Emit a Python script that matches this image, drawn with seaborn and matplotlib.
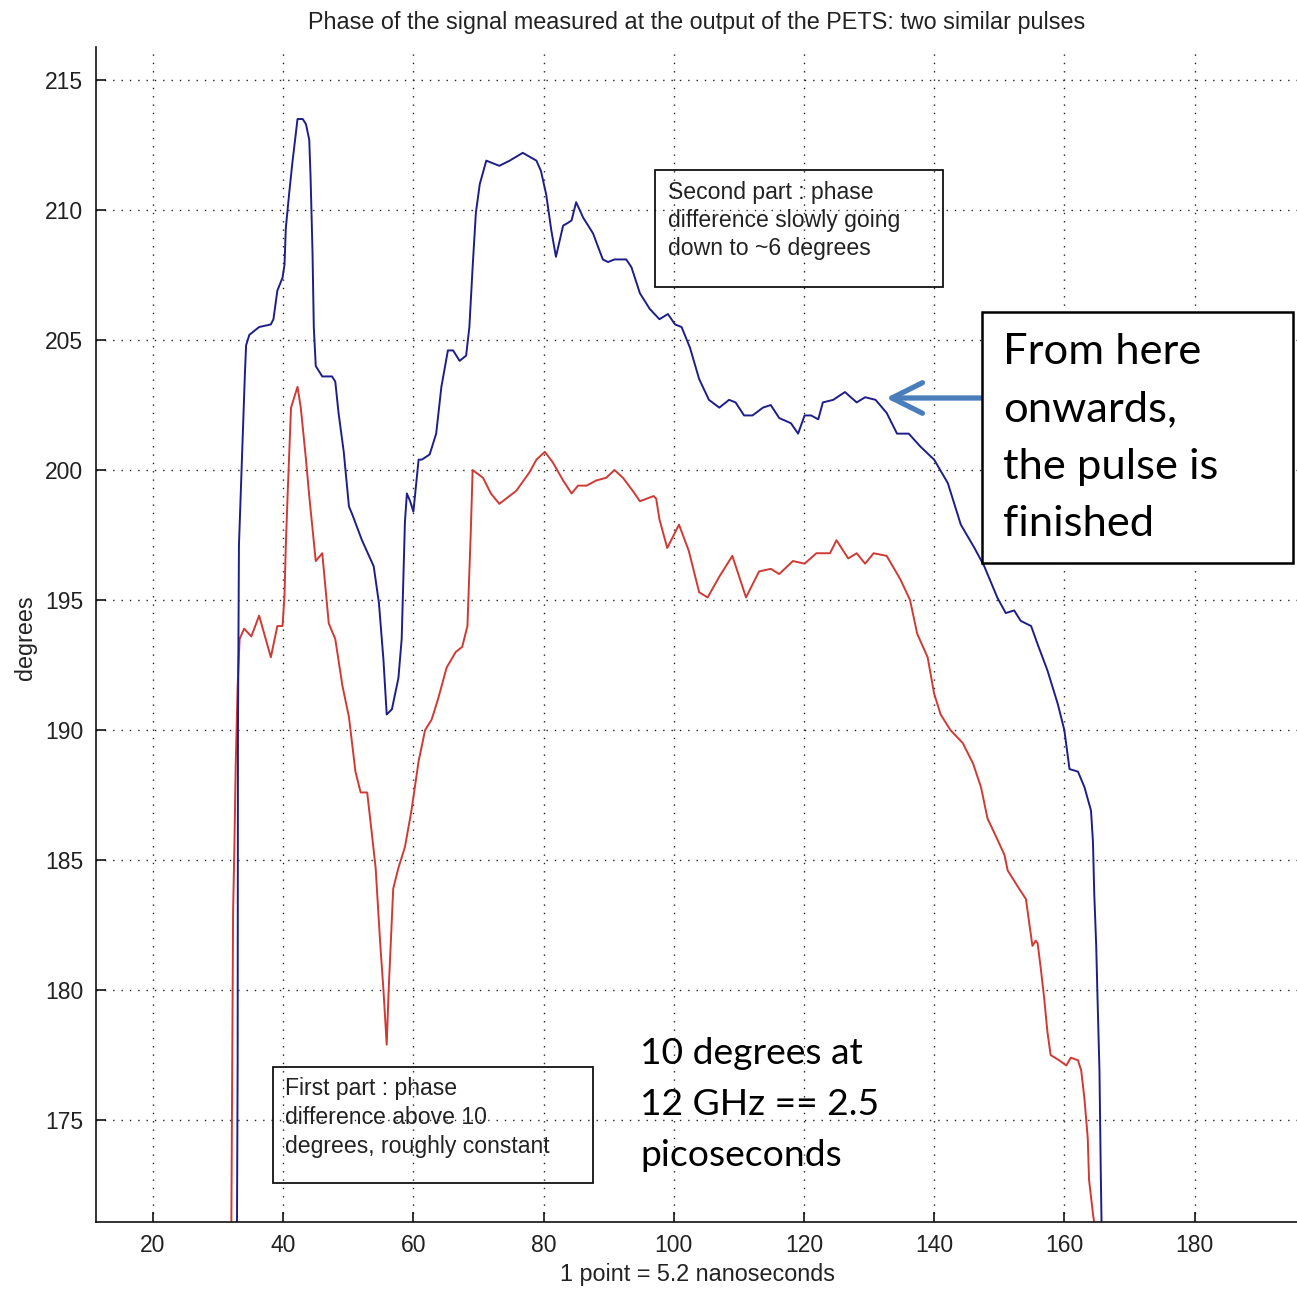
import numpy as np
import pandas as pd
import matplotlib
matplotlib.use("Agg")
import matplotlib.pyplot as plt
import seaborn as sns
from matplotlib.patches import Rectangle

# ---------------- data ----------------
blue_x = [32.8, 33.0, 33.05, 33.2, 33.5, 33.8, 34.1, 34.3, 34.8, 36.3, 38.1, 38.5, 39.1, 39.9,
          40.2, 40.4, 40.9, 41.4, 42.2, 43.0, 43.5, 44.0, 44.2, 44.5, 44.7, 45.0, 46.0, 47.5,
          48.0, 48.5, 49.3, 50.1, 50.6, 52.1, 53.9, 54.7, 55.4, 55.9, 56.7, 57.7, 58.2, 58.7,
          59.0, 59.5, 60.0, 60.8, 61.3, 62.5, 63.5, 64.3, 65.3, 66.1, 67.1, 68.1, 68.6, 69.1,
          69.6, 70.2, 71.2, 73.2, 74.8, 76.8, 78.9, 79.6, 80.4, 81.2, 81.9, 83.0, 83.7, 84.3,
          85.0, 86.1, 87.6, 89.1, 89.9, 90.9, 92.7, 93.5, 94.8, 96.3, 97.8, 99.1, 100.2, 101.2,
          102.5, 103.9, 105.4, 107.0, 108.5, 109.5, 110.8, 112.1, 113.7, 114.9, 116.2, 118.0,
          119.1, 120.1, 121.1, 122.2, 122.9, 124.5, 126.3, 128.1, 129.4, 131.0, 132.7, 134.3,
          136.1, 137.9, 140.0, 142.1, 144.1, 146.2, 147.7, 149.7, 151.0, 152.3, 153.3, 154.9,
          155.9, 157.4, 159.0, 160.0, 160.8, 162.1, 163.1, 164.1, 164.4, 164.6, 164.9, 165.1,
          165.4, 165.6, 165.9]
blue_y = [165.0, 177.2, 190.0, 197.1, 199.3, 201.6, 203.6, 204.8, 205.2, 205.5, 205.6, 205.8,
          206.9, 207.4, 207.9, 209.3, 210.6, 211.8, 213.5, 213.5, 213.3, 212.7, 211.3, 208.4,
          205.5, 204.0, 203.6, 203.6, 203.4, 202.2, 200.7, 198.6, 198.3, 197.3, 196.3, 194.9,
          192.7, 190.6, 190.8, 192.0, 193.5, 198.0, 199.1, 198.8, 198.4, 200.4, 200.4, 200.6,
          201.4, 203.2, 204.6, 204.6, 204.2, 204.4, 205.5, 207.8, 209.9, 211.0, 211.9, 211.7,
          211.9, 212.2, 211.9, 211.5, 210.6, 209.2, 208.2, 209.4, 209.5, 209.6, 210.3, 209.7,
          209.1, 208.1, 208.0, 208.1, 208.1, 207.8, 206.8, 206.2, 205.8, 206.0, 205.6, 205.5,
          204.7, 203.5, 202.7, 202.4, 202.7, 202.6, 202.1, 202.1, 202.4, 202.5, 202.0, 201.8,
          201.4, 202.1, 202.1, 201.95, 202.6, 202.7, 203.0, 202.6, 202.8, 202.7, 202.2, 201.4,
          201.4, 200.9, 200.4, 199.5, 197.9, 197.0, 196.3, 195.1, 194.5, 194.6, 194.2, 194.0,
          193.3, 192.3, 191.0, 190.0, 188.5, 188.4, 187.8, 186.9, 185.7, 183.7, 181.7, 179.7,
          176.9, 173.0, 168.0]

red_x = [31.9, 32.3, 32.5, 32.7, 33.0, 33.3, 34.0, 35.1, 36.3, 38.1, 39.1, 39.9, 40.2, 40.4,
         40.7, 41.2, 42.2, 42.7, 43.5, 44.0, 45.0, 46.0, 47.0, 48.0, 49.1, 50.1, 51.1, 51.9,
         52.9, 53.4, 54.2, 54.9, 55.4, 55.9, 56.2, 56.9, 57.7, 58.7, 59.7, 60.8, 61.8, 62.8,
         63.8, 65.1, 66.5, 67.5, 68.3, 68.8, 69.1, 70.7, 71.9, 73.2, 75.8, 77.8, 78.9, 80.2,
         81.4, 83.0, 84.3, 85.3, 86.6, 88.1, 89.6, 90.9, 92.2, 93.7, 94.8, 96.9, 97.3, 97.8,
         99.0, 100.8, 102.3, 103.9, 105.2, 107.0, 109.0, 111.1, 113.1, 114.9, 116.2, 118.3,
         120.1, 121.9, 124.0, 125.0, 126.8, 128.1, 129.4, 130.7, 132.7, 134.8, 136.3, 137.4,
         139.0, 140.0, 141.0, 142.5, 144.4, 146.0, 147.2, 148.2, 149.7, 150.8, 151.3, 152.8,
         154.1, 154.6, 155.1, 155.6, 155.9, 156.4, 156.9, 157.4, 157.9, 159.2, 160.3, 161.0,
         162.1, 162.6, 163.1, 163.6, 163.8, 164.4, 164.9]
red_y = [165.0, 183.0, 185.5, 188.6, 191.7, 193.5, 193.9, 193.6, 194.4, 192.8, 194.0, 194.0,
         195.2, 197.1, 199.2, 202.4, 203.2, 202.4, 200.4, 199.0, 196.5, 196.8, 194.1, 193.5,
         191.7, 190.5, 188.4, 187.6, 187.6, 186.5, 184.7, 181.8, 180.0, 177.9, 180.0, 183.9,
         184.7, 185.5, 186.9, 188.8, 190.0, 190.4, 191.2, 192.4, 193.0, 193.2, 194.0, 197.5,
         200.0, 199.7, 199.1, 198.7, 199.2, 199.9, 200.4, 200.7, 200.3, 199.6, 199.1, 199.4,
         199.4, 199.6, 199.7, 200.0, 199.7, 199.2, 198.8, 199.0, 198.9, 198.1, 197.0, 197.9,
         196.9, 195.3, 195.1, 195.9, 196.7, 195.1, 196.1, 196.2, 196.0, 196.5, 196.4, 196.8,
         196.8, 197.3, 196.6, 196.8, 196.4, 196.8, 196.7, 195.8, 195.0, 193.7, 192.8, 191.4,
         190.6, 190.0, 189.5, 188.7, 187.8, 186.6, 185.8, 185.2, 184.6, 184.0, 183.5, 182.6,
         181.7, 181.9, 181.8, 180.8, 179.7, 178.4, 177.5, 177.3, 177.1, 177.4, 177.3, 176.9,
         175.8, 174.3, 172.7, 171.4, 170.5]

x_ticks = [20, 40, 60, 80, 100, 120, 140, 160, 180]
y_ticks = [175, 180, 185, 190, 195, 200, 205, 210, 215]

title_text = "Phase of the signal measured at the output of the PETS: two similar pulses"
x_label = "1 point = 5.2 nanoseconds"
y_label = "degrees"
note_second = ["Second part : phase", "difference slowly going", "down to ~6 degrees"]
note_first = ["First part : phase", "difference above 10", "degrees, roughly constant"]
note_finished = ["From here", "onwards,", "the pulse is", "finished"]
note_ghz = ["10 degrees at", "12 GHz == 2.5", "picoseconds"]

# ---------------- figure ----------------
sns.set_theme(style="white")
plt.rcParams['font.family'] = ['Liberation Sans', 'DejaVu Sans']

W, H = 1297, 1289
fig = plt.figure(figsize=(W / 100, H / 100), dpi=100)
fig.patch.set_facecolor("white")


def fx(px):
    return px / W


def fy(py):
    return 1 - py / H


ax = fig.add_axes([fx(96), fy(1222), fx(1298) - fx(96), fy(47) - fy(1222)])
ax.set_facecolor("white")

df = pd.concat([
    pd.DataFrame({"x": red_x, "y": red_y, "series": "pulse 2"}),
    pd.DataFrame({"x": blue_x, "y": blue_y, "series": "pulse 1"}),
], ignore_index=True)

sns.lineplot(data=df, x="x", y="y", hue="series", units="series", estimator=None,
             sort=False, palette={"pulse 1": "#1e1e8a", "pulse 2": "#cf3a35"},
             linewidth=1.4, legend=False, ax=ax)

ax.set_xlim(11.24, 195.9)
ax.set_ylim(171.08, 216.27)
ax.set_xticks(x_ticks)
ax.set_yticks(y_ticks)
ax.grid(True, which="major", color="#222222", linestyle=(0, (1, 5)), linewidth=1.0)
ax.set_axisbelow(True)
for s in ["top", "right"]:
    ax.spines[s].set_visible(False)
for s in ["left", "bottom"]:
    ax.spines[s].set_color("#111111")
    ax.spines[s].set_linewidth(1.2)
ax.tick_params(direction="in", length=7, width=1.2, color="#111111",
               labelsize=16.5, labelcolor="#222222", left=True, bottom=True, pad=9)
ax.set_xlabel("")
ax.set_ylabel("")

txt_kw = dict(color="#222222", fontsize=16.8)
fig.text(fx(697), fy(22), title_text, ha="center", va="center", **txt_kw)
fig.text(fx(697), fy(1275), x_label, ha="center", va="center", **txt_kw)
fig.text(fx(25), fy(638), y_label, ha="center", va="center", rotation=90, **txt_kw)

# annotation boxes (MATLAB style, transparent)
box_kw = dict(color="#222222", fontsize=16.6)
fig.add_artist(Rectangle((fx(655), fy(287)), fx(943) - fx(655), fy(170) - fy(287),
                         transform=fig.transFigure, fill=False, ec="#111111", lw=1.3))
for i, line in enumerate(note_second):
    fig.text(fx(668), fy(192 + 28.5 * i), line, ha="left", va="center", **box_kw)

fig.add_artist(Rectangle((fx(273), fy(1183)), fx(593) - fx(273), fy(1067) - fy(1183),
                         transform=fig.transFigure, fill=False, ec="#111111", lw=1.3))
for i, line in enumerate(note_first):
    fig.text(fx(285), fy(1089 + 28.5 * i), line, ha="left", va="center", **box_kw)

# big white box
fig.add_artist(Rectangle((fx(982), fy(563)), fx(1293) - fx(982), fy(312) - fy(563),
                         transform=fig.transFigure, fc="white", ec="black", lw=1.8, zorder=5))
for i, line in enumerate(note_finished):
    fig.text(fx(1003), fy(352 + 57.3 * i), line, ha="left", va="center",
             fontsize=31.3, color="black", family=["Lato", "DejaVu Sans"], zorder=6)

for i, line in enumerate(note_ghz):
    fig.text(fx(640), fy(1053 + 51.5 * i), line, ha="left", va="center",
             fontsize=26.8, color="black", family=["Lato", "DejaVu Sans"], zorder=6)

# blue arrow
ax.annotate("", xy=(fx(886), fy(398)), xytext=(fx(982), fy(398)),
            xycoords="figure fraction", textcoords="figure fraction",
            arrowprops=dict(arrowstyle="->,head_length=2.2,head_width=1.1",
                            lw=3.8, color="#4a7ebb", mutation_scale=10,
                            shrinkA=0, shrinkB=0, capstyle="round", joinstyle="round"),
            annotation_clip=False)

fig.savefig("out.png", dpi=100, facecolor="white")
